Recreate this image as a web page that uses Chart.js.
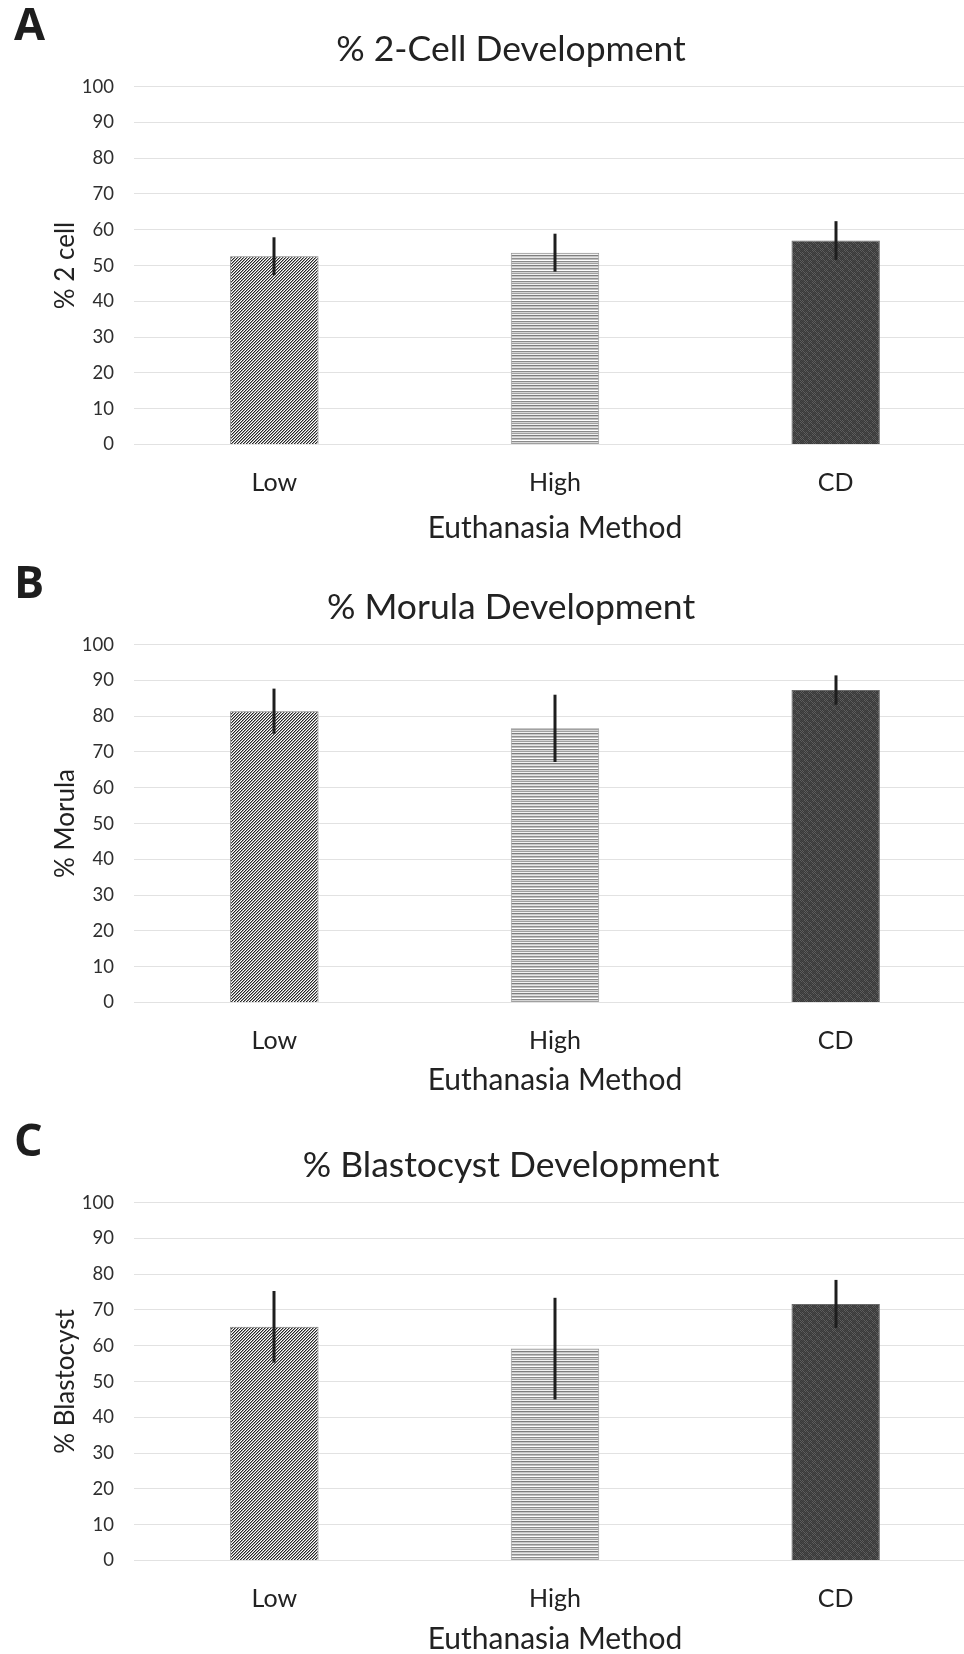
<!DOCTYPE html>
<html><head><meta charset="utf-8">
<script src="https://cdn.jsdelivr.net/npm/chart.js@4.4.0/dist/chart.umd.min.js"></script>
<style>
html,body{margin:0;padding:0;background:#fff;width:964px;height:1654px;overflow:hidden;position:relative}
.panel{position:absolute;left:0;width:976px;height:558px}
.panel canvas{position:absolute;left:0;top:0}
.letter{position:absolute;left:14px;top:0px;font-family:'Open Sans',sans-serif;font-weight:700;font-size:45px;color:#1e1e1e;line-height:1;z-index:2}
</style></head><body>
<div class="panel" style="top:0px"><div class="letter">A</div><canvas id="c0" width="976" height="558"></canvas></div>
<div class="panel" style="top:558px"><div class="letter">B</div><canvas id="c1" width="976" height="558"></canvas></div>
<div class="panel" style="top:1116px"><div class="letter">C</div><canvas id="c2" width="976" height="558"></canvas></div>
<script>
// ---- data ----
const categories = ['Low', 'High', 'CD'];
const yTickMin = 0, yTickMax = 100, yTickStep = 10;
const xAxisTitle = 'Euthanasia Method';

const twoCellTitle = '% 2-Cell Development';
const twoCellYTitle = '% 2 cell';
const twoCellMeans = [52.6, 53.6, 57.0];
const twoCellErr = [5.3, 5.3, 5.4];

const morulaTitle = '% Morula Development';
const morulaYTitle = '% Morula';
const morulaMeans = [81.4, 76.6, 87.3];
const morulaErr = [6.3, 9.4, 4.1];

const blastTitle = '% Blastocyst Development';
const blastYTitle = '% Blastocyst';
const blastMeans = [65.3, 59.2, 71.7];
const blastErr = [10.0, 14.2, 6.7];

// ---- patterns ----
function makePattern(kind) {
  const c = document.createElement('canvas');
  const ctx = c.getContext('2d');
  if (kind === 'diag') {
    c.width = 3; c.height = 3;
    ctx.fillStyle = '#ffffff'; ctx.fillRect(0, 0, 3, 3);
    for (let y = 0; y < 3; y++) {
      ctx.fillStyle = '#262626'; ctx.fillRect((2 - y + 3) % 3, y, 1, 1);
      ctx.fillStyle = '#9a9a9a'; ctx.fillRect((3 - y + 3) % 3, y, 1, 1);
    }
  } else if (kind === 'horiz') {
    const rows = ['#ffffff', '#8a8a8a', '#d4d4d4', '#a0a0a0', '#f2f2f2', '#7e7e7e', '#c8c8c8', '#e6e6e6', '#909090', '#bdbdbd'];
    c.width = 1; c.height = rows.length;
    rows.forEach((col, i) => { ctx.fillStyle = col; ctx.fillRect(0, i, 1, 1); });
  } else {
    c.width = 8; c.height = 8;
    ctx.fillStyle = '#3a3a3a'; ctx.fillRect(0, 0, 8, 8);
    for (let y = 0; y < 8; y++) for (let x = 0; x < 8; x++) {
      if ((x + y) % 2 === 0 && ((x < 4) !== (y < 4))) { ctx.fillStyle = '#5e5e5e'; ctx.fillRect(x, y, 1, 1); }
      else if ((x + y) % 2 === 0) { ctx.fillStyle = '#474747'; ctx.fillRect(x, y, 1, 1); }
    }
  }
  return document.createElement('canvas').getContext('2d').createPattern(c, 'repeat');
}
const fills = [makePattern('diag'), makePattern('horiz'), makePattern('dots')];
const borders = ['#7a7a7a', '#9a9a9a', '#6a6a6a'];

const errorBarPlugin = {
  id: 'errbars',
  afterDatasetsDraw(chart) {
    const { ctx, scales: { x, y } } = chart;
    const errs = chart.options.plugins.errbars.errors;
    const means = chart.data.datasets[0].data;
    ctx.save();
    ctx.strokeStyle = '#1e1e1e'; ctx.lineWidth = 3; ctx.lineCap = 'butt';
    means.forEach((m, i) => {
      const px = Math.round(x.getPixelForValue(i));
      ctx.beginPath();
      ctx.moveTo(px, y.getPixelForValue(m + errs[i]));
      ctx.lineTo(px, y.getPixelForValue(m - errs[i]));
      ctx.stroke();
    });
    ctx.restore();
  }
};

const FONT = 'Lato';
const TXT = '#222222';

function build(id, title, yTitle, means, errs, xTitlePad) {
  new Chart(document.getElementById(id), {
    type: 'bar',
    data: {
      labels: categories,
      datasets: [{
        data: means,
        backgroundColor: fills,
        borderColor: borders,
        borderWidth: 1,
        barPercentage: 0.315,
        categoryPercentage: 1
      }]
    },
    plugins: [errorBarPlugin],
    options: {
      responsive: false,
      animation: false,
      devicePixelRatio: 1,
      layout: { padding: { left: 46, right: 0, top: 0, bottom: 0 } },
      plugins: {
        legend: { display: false },
        tooltip: { enabled: false },
        title: {
          display: true, text: title, color: TXT,
          font: { family: FONT, size: 35.5, weight: 'normal' },
          padding: { top: 28, bottom: 16 }
        },
        errbars: { errors: errs }
      },
      scales: {
        x: {
          grid: { display: false, drawTicks: false },
          border: { display: false },
          ticks: { color: TXT, font: { family: FONT, size: 25 }, padding: 23 },
          title: { display: true, text: xAxisTitle, color: TXT, font: { family: FONT, size: 30 }, padding: { top: 0, bottom: xTitlePad } },
          afterFit(s) { s.height = 113.5; }
        },
        y: {
          min: yTickMin, max: yTickMax,
          ticks: { stepSize: yTickStep, color: '#2e2e2e', font: { family: FONT, size: 18.5 }, padding: 20 },
          grid: { color: '#e2e2e2', lineWidth: 1, drawTicks: false },
          border: { display: false },
          title: { display: true, text: yTitle, color: TXT, font: { family: FONT, size: 26 }, padding: { top: 4, bottom: 0 } },
          afterFit(s) { s.width = 88; }
        }
      }
    }
  });
}

build('c0', twoCellTitle, twoCellYTitle, twoCellMeans, twoCellErr, 12);
build('c1', morulaTitle, morulaYTitle, morulaMeans, morulaErr, 18);
build('c2', blastTitle, blastYTitle, blastMeans, blastErr, 17);
</script>
</body></html>
